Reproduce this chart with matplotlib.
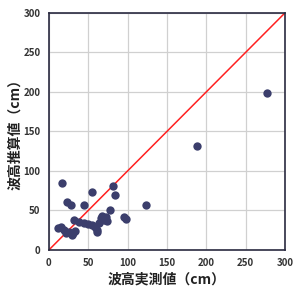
import matplotlib
matplotlib.use("Agg")
import matplotlib.pyplot as plt

plt.rcParams['font.family'] = ['Noto Sans CJK JP', 'DejaVu Sans']

# measured (x) vs estimated (y) wave height, cm
measured = [12, 15, 19, 22, 25, 29, 30, 33,
            32, 38, 44, 50, 55, 59, 61, 61, 64,
            66, 68, 72, 74, 70,
            17, 23, 28, 45, 55,
            78, 81, 84, 96, 98, 123, 188, 277]
estimated = [28, 29, 25, 21, 23, 19, 21, 24,
             38, 36, 34, 33, 32, 29, 25, 23, 34,
             40, 43, 42, 37, 38,
             85, 61, 57, 57, 73,
             51, 81, 70, 42, 39, 57, 131, 199]
ticks = [0, 50, 100, 150, 200, 250, 300]

fig = plt.figure(figsize=(3.0, 2.99), dpi=100)
ax = fig.add_axes([0.163, 0.164, 0.787, 0.793])

ax.plot([0, 300], [0, 300], color='#ff2020', lw=1.1, zorder=2)
ax.scatter(measured, estimated, s=36, color='#3b3e6c', zorder=3, linewidths=0)

ax.set_xlim(0, 300)
ax.set_ylim(0, 300)
ax.set_xticks(ticks)
ax.set_yticks(ticks)
ax.grid(True, color='#d0d0d0', lw=0.9)
ax.set_axisbelow(True)
ax.tick_params(length=0, labelsize=7, labelcolor='#333333', pad=6)
for lbl in ax.get_xticklabels() + ax.get_yticklabels():
    lbl.set_fontweight('bold')
for s in ax.spines.values():
    s.set_color('#2a2a40')
    s.set_linewidth(1.2)

ax.set_xlabel('波高実測値（cm）', fontsize=10, fontweight='bold', color='#222222', labelpad=3)
ax.set_ylabel('波高推算値（cm）', fontsize=10, fontweight='bold', color='#222222', labelpad=1)

fig.savefig('out.png', dpi=100)
